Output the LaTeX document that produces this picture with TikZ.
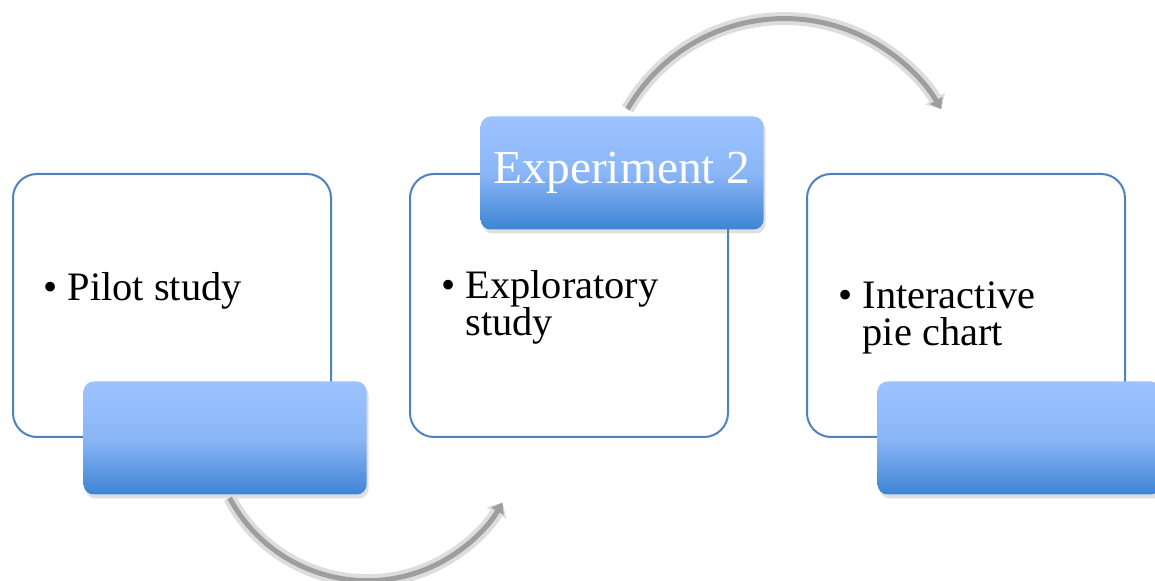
\documentclass[tikz,border=0pt]{standalone}
\usepackage{fontspec}
\setmainfont{Liberation Serif}
\usepackage{xcolor}
\usetikzlibrary{positioning, arrows.meta, shadows}

\definecolor{cardline}{RGB}{79,129,189}
\definecolor{tabtop}{RGB}{157,195,255}
\definecolor{tabbottom}{RGB}{62,132,212}
\definecolor{arcgray}{RGB}{158,158,158}

\begin{document}
\begin{tikzpicture}[
      card/.style={
        rectangle,
        draw=cardline,
        line width=1pt,
        fill=white,
        rounded corners=12pt,
        minimum width=159pt,
        minimum height=131.5pt
      },
      tab/.style={
        rectangle,
        rounded corners=5pt,
        top color=tabtop,
        bottom color=tabbottom,
        middle color=tabtop!80!tabbottom,
        drop shadow={shadow xshift=1pt, shadow yshift=-2pt, opacity=.25},
        minimum width=141.5pt,
        minimum height=56.5pt,
        text=white,
        font=\fontsize{23.7}{26}\selectfont
      },
      item/.style={
        anchor=base west,
        align=left,
        inner sep=0pt,
        font=\fontsize{20.2}{18.5}\selectfont
      },
      flow/.style={
        draw=arcgray,
        line width=2.5pt,
        -{Triangle[length=5pt,width=7pt]},
        preaction={draw=arcgray!70, line width=4.5pt, -{Triangle[length=5.5pt,width=9pt]}},
        preaction={draw=arcgray!35, line width=6.5pt, -{Triangle[length=6pt,width=11pt]}}
      },
      node distance=38.5pt
    ]
    \useasboundingbox (0,0) rectangle (577.5pt,-290.5pt);

    % Nodes
    \node[card, anchor=north west] (pilot) at (6pt,-86.5pt) {};
    \node[card, right=of pilot] (explore) {};
    \node[card, right=of explore] (chart) {};

    \node[item] (pilot-txt) at ([xshift=15.5pt, yshift=-64pt]pilot.north west) {• Pilot study};
    \node[item] (explore-txt) at ([xshift=16pt, yshift=-81.5pt]explore.north west)
      {• Exploratory\\\hphantom{• }study};
    \node[item] (chart-txt) at ([xshift=16pt, yshift=-86.5pt]chart.north west)
      {• Interactive\\\hphantom{• }pie chart};

    \node[tab, anchor=east] (tab1) at ([xshift=17.5pt]pilot.south east) {};
    \node[tab, anchor=east] (exp) at ([xshift=17.5pt]explore.north east) {Experiment 2};
    \node[tab, anchor=east] (tab3) at ([xshift=17.5pt]chart.south east) {};

    % Arrows
    \coordinate (low-start) at ([xshift=2.25pt, yshift=-1.5pt]tab1.south);
    \coordinate (up-start) at ([xshift=2.75pt, yshift=3.5pt]exp.north);
    \draw[flow] (low-start) arc[start angle=208, end angle=330, radius=78pt];
    \draw[flow] (up-start) arc[start angle=150, end angle=30, radius=90.5pt];
  \end{tikzpicture}
\end{document}
